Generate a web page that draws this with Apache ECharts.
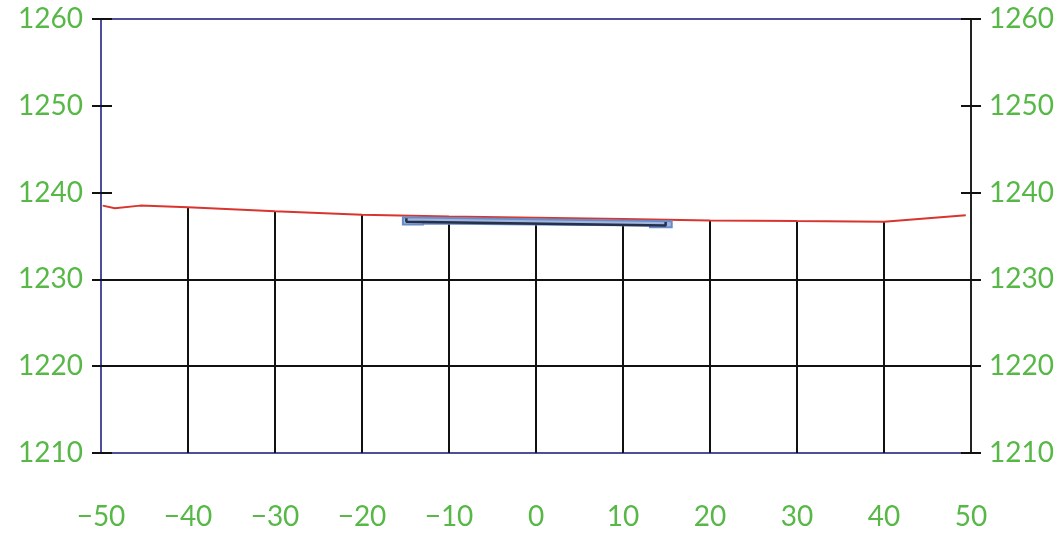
<!DOCTYPE html>
<html>
<head>
<meta charset="utf-8">
<script src="https://cdn.jsdelivr.net/npm/echarts@6/dist/echarts.min.js"></script>
<style>html,body{margin:0;padding:0;background:#fff}#c{width:1062px;height:537px}</style>
</head>
<body>
<div id="c"></div>
<script>
// ---- data ----
const xTicks = [-50, -40, -30, -20, -10, 0, 10, 20, 30, 40, 50];
const yTicks = [1210, 1220, 1230, 1240, 1250, 1260];
// ground profile (red line)
const terrainX = [-49.8, -48.4, -45.5, -40, -30, -20, -10, 0, 10, 20, 30, 40, 49.4];
const terrainY = [1238.5, 1238.2, 1238.5, 1238.3, 1237.85, 1237.45, 1237.25, 1237.1, 1236.95, 1236.8, 1236.72, 1236.65, 1237.4];
// vertical grid lines: x position and top elevation
const gridX = [-40, -30, -20, -10, 0, 10, 20, 30, 40];
const gridTop = [1238.3, 1237.85, 1237.45, 1236.45, 1236.3, 1236.15, 1236.8, 1236.72, 1236.65];
// full-width horizontal lines
const hLines = [1230, 1220];
// slab outline (blue)
const slabX = [-15.3, 15.6, 15.6, 13.1, 13.1, -13.0, -13.0, -15.3];
const slabY = [1237.15, 1236.7, 1236.0, 1236.0, 1236.2, 1236.45, 1236.33, 1236.33];
// dark inner line of slab
const slabInnerX = [-14.9, -14.9, 14.9, 14.9];
const slabInnerY = [1237.05, 1236.65, 1236.2, 1236.6];

const green = '#57b847';
const blue = '#4d4f9c';
const font = 'Lato, "Noto Sans", sans-serif';
const fmtX = v => v < 0 ? '\u2212' + Math.abs(v) : String(v);
const fmtY = v => String(v);

const xMin = xTicks[0], xMax = xTicks[xTicks.length - 1], xInt = xTicks[1] - xTicks[0];
const yMin = yTicks[0], yMax = yTicks[yTicks.length - 1], yInt = yTicks[1] - yTicks[0];

const chart = echarts.init(document.getElementById('c'), null, {renderer: 'canvas'});

const yBase = {
  type: 'value', min: yMin, max: yMax, interval: yInt,
  splitLine: {show: false}
};

chart.setOption({
  animation: false,
  grid: {left: 101, right: 91, top: 19, bottom: 84, containLabel: false},
  xAxis: [
    {
      type: 'value', min: xMin, max: xMax, interval: xInt, position: 'bottom',
      axisLine: {show: true, onZero: false, lineStyle: {color: blue, width: 2}},
      axisTick: {show: false},
      splitLine: {show: false},
      axisLabel: {color: green, fontSize: 28, fontFamily: font, margin: 50, formatter: fmtX}
    },
    {
      type: 'value', min: xMin, max: xMax, interval: xInt, position: 'top',
      axisLine: {show: true, onZero: false, lineStyle: {color: blue, width: 2}},
      axisTick: {show: false}, axisLabel: {show: false}, splitLine: {show: false}
    }
  ],
  yAxis: [
    Object.assign({}, yBase, {
      position: 'left',
      axisLine: {show: true, onZero: false, lineStyle: {color: blue, width: 2}},
      axisTick: {show: true, length: 9, lineStyle: {color: '#111', width: 2}},
      axisLabel: {color: green, fontSize: 28, fontFamily: font, margin: 18, formatter: fmtY}
    }),
    Object.assign({}, yBase, {
      position: 'left',
      axisLine: {show: false, onZero: false},
      axisTick: {show: true, inside: true, length: 11, lineStyle: {color: '#111', width: 2}},
      axisLabel: {show: false}
    }),
    Object.assign({}, yBase, {
      position: 'right',
      axisLine: {show: true, onZero: false, lineStyle: {color: '#222', width: 2}},
      axisTick: {show: true, length: 10, lineStyle: {color: '#111', width: 2}},
      axisLabel: {color: green, fontSize: 28, fontFamily: font, margin: 18, formatter: fmtY}
    }),
    Object.assign({}, yBase, {
      position: 'right',
      axisLine: {show: false, onZero: false},
      axisTick: {show: true, inside: true, length: 10, lineStyle: {color: '#111', width: 2}},
      axisLabel: {show: false}
    })
  ],
  series: [
    {
      type: 'line', xAxisIndex: 0, yAxisIndex: 0, data: [], silent: true,
      markLine: {
        symbol: 'none', silent: true, label: {show: false},
        lineStyle: {color: '#111', width: 2, type: 'solid'},
        data: gridX.map((x, i) => [{coord: [x, yMin]}, {coord: [x, gridTop[i]]}])
          .concat(hLines.map(y => [{coord: [xMin, y]}, {coord: [xMax, y]}]))
      }
    },
    {
      type: 'line', xAxisIndex: 0, yAxisIndex: 0, symbol: 'none', z: 5,
      lineStyle: {color: '#d8352e', width: 2},
      data: terrainX.map((x, i) => [x, terrainY[i]])
    },
    {
      type: 'custom', xAxisIndex: 0, yAxisIndex: 0, z: 6,
      data: [0],
      renderItem: function (params, api) {
        const pts = slabX.map((x, i) => api.coord([x, slabY[i]]));
        return {
          type: 'polygon',
          shape: {points: pts},
          style: {fill: '#9fb6de', stroke: '#6a8bc6', lineWidth: 2}
        };
      }
    },
    {
      type: 'line', xAxisIndex: 0, yAxisIndex: 0, symbol: 'none', z: 7,
      lineStyle: {color: '#25304a', width: 2.5},
      data: slabInnerX.map((x, i) => [x, slabInnerY[i]])
    }
  ]
});
</script>
</body>
</html>
